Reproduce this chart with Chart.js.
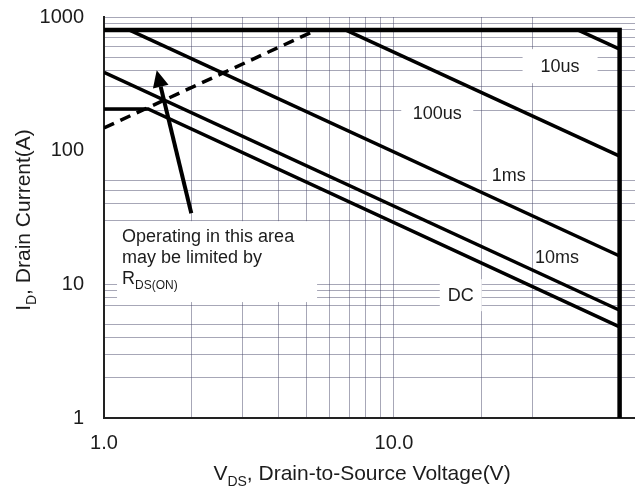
<!DOCTYPE html>
<html>
<head>
<meta charset="utf-8">
<script src="https://cdn.jsdelivr.net/npm/chart.js@4.4.1/dist/chart.umd.min.js"></script>
<style>
  html, body { margin: 0; padding: 0; background: #fff; }
  canvas { display: block; }
</style>
</head>
<body>
<canvas id="soaChart" width="635" height="488"></canvas>
<script>
// Safe operating area (log-log)
const limitVds = [1, 60, 60];
const limitId = [800, 800, 1];

const us10Vds = [43, 60];
const us10Id = [800, 575];

const us100Vds = [6.8, 60];
const us100Id = [800, 91];

const ms1Vds = [1.22, 60];
const ms1Id = [800, 16.3];

const ms10Vds = [1, 60];
const ms10Id = [385, 6.4];

const dcVds = [1, 1.42, 60];
const dcId = [205, 205, 4.8];

// Rds(on) limit (dashed)
const rdsVds = [1, 5.4];
const rdsId = [148, 800];

// arrow from the note up to the Rds(on) region
const arrowVds = [2.0, 1.52];
const arrowId = [34, 400];

// grid lines and tick labels
const xGridValues = [1, 2, 3, 4, 5, 6, 7, 8, 9, 10, 20, 30];
const xLabelValues = [1, 10];
const yGridValues = [1, 2, 3, 4, 5, 7, 8, 9, 10, 30, 40, 50, 60, 200, 300, 400, 500, 600, 700, 800, 900, 1000];
const yLabelValues = [1, 10, 100, 1000];

const FONT = '"Liberation Sans", Arial, sans-serif';
const INK = "#1c1c1c";
const GRID = "rgba(72, 72, 104, 0.48)";

// curve tags, anchored in data space (Vds, Id); w/h = white knock-out box
const curveTags = [
  { text: "10us", vds: 37.4, id: 429, w: 75, h: 34 },
  { text: "100us", vds: 14.1, id: 191, w: 72, h: 32 },
  { text: "1ms", vds: 24.9, id: 65.7, w: 44, h: 26 },
  { text: "10ms", vds: 36.5, id: 16.0, w: 48, h: 26 },
  { text: "DC", vds: 17.0, id: 8.3, w: 42, h: 32 },
];

function pts(xs, ys) {
  return xs.map((x, i) => ({ x: x, y: ys[i] }));
}

function drawRich(ctx, parts, x, y, size, align) {
  const subSize = Math.round(size * 0.66);
  const widths = parts.map(([t, sub]) => {
    ctx.font = `${sub ? subSize : size}px ${FONT}`;
    return ctx.measureText(t).width;
  });
  const total = widths.reduce((a, b) => a + b, 0);
  let cx = align === "center" ? x - total / 2 : x;
  ctx.textAlign = "left";
  ctx.textBaseline = "alphabetic";
  parts.forEach(([t, sub], i) => {
    ctx.font = `${sub ? subSize : size}px ${FONT}`;
    ctx.fillText(t, cx, sub ? y + size * 0.28 : y);
    cx += widths[i];
  });
}

const soaDecor = {
  id: "soaDecor",
  beforeDatasetsDraw(chart) {
    const { ctx, scales } = chart;
    const xs = scales.x, ys = scales.y;
    ctx.save();

    // note box (white, hides the grid behind the text)
    const bx0 = xs.getPixelForValue(1.109), bx1 = xs.getPixelForValue(5.43);
    const by0 = ys.getPixelForValue(29.7), by1 = ys.getPixelForValue(7.37);
    ctx.fillStyle = "#fff";
    ctx.fillRect(bx0, by0, bx1 - bx0, by1 - by0);

    ctx.fillStyle = INK;
    const tx = xs.getPixelForValue(1.154);
    const ty = ys.getPixelForValue(20.7);
    drawRich(ctx, [["Operating in this area", false]], tx, ty, 18, "left");
    drawRich(ctx, [["may be limited by", false]], tx, ty + 21, 18, "left");
    drawRich(ctx, [["R", false], ["DS(ON)", true]], tx, ty + 42, 18, "left");

    // curve tags
    curveTags.forEach((tag) => {
      const px = xs.getPixelForValue(tag.vds);
      const py = ys.getPixelForValue(tag.id);
      ctx.fillStyle = "#fff";
      ctx.fillRect(px - tag.w / 2, py - tag.h / 2, tag.w, tag.h);
      ctx.fillStyle = INK;
      ctx.font = `18px ${FONT}`;
      ctx.textAlign = "center";
      ctx.textBaseline = "middle";
      ctx.fillText(tag.text, px, py + 1);
    });
    ctx.restore();
  },
  afterDatasetsDraw(chart) {
    const { ctx, scales } = chart;
    const x0 = scales.x.getPixelForValue(arrowVds[0]);
    const y0 = scales.y.getPixelForValue(arrowId[0]);
    const x1 = scales.x.getPixelForValue(arrowVds[1]);
    const y1 = scales.y.getPixelForValue(arrowId[1]);
    const ang = Math.atan2(y1 - y0, x1 - x0);
    const headLen = 17, headHalf = 8;
    const bx = x1 - headLen * Math.cos(ang), by = y1 - headLen * Math.sin(ang);

    ctx.save();
    ctx.strokeStyle = "#000";
    ctx.fillStyle = "#000";
    ctx.lineWidth = 4;
    ctx.beginPath();
    ctx.moveTo(x0, y0);
    ctx.lineTo(bx, by);
    ctx.stroke();
    ctx.beginPath();
    ctx.moveTo(x1, y1);
    ctx.lineTo(bx + headHalf * Math.sin(ang), by - headHalf * Math.cos(ang));
    ctx.lineTo(bx - headHalf * Math.sin(ang), by + headHalf * Math.cos(ang));
    ctx.closePath();
    ctx.fill();
    ctx.restore();
  },
  afterDraw(chart) {
    const { ctx, chartArea } = chart;
    ctx.save();
    ctx.fillStyle = INK;
    // x axis title
    drawRich(ctx, [["V", false], ["DS", true], [", Drain-to-Source Voltage(V)", false]],
      362, chartArea.bottom + 62, 21, "center");
    // y axis title
    ctx.translate(30, 220);
    ctx.rotate(-Math.PI / 2);
    drawRich(ctx, [["I", false], ["D", true], [", Drain Current(A)", false]], 0, 0, 21, "center");
    ctx.restore();
  },
};

const solid = (data, width) => ({
  data: data,
  borderColor: "#000",
  borderWidth: width,
  showLine: true,
  pointRadius: 0,
  tension: 0,
  fill: false,
});

const ctx = document.getElementById("soaChart").getContext("2d");

new Chart(ctx, {
  type: "scatter",
  data: {
    datasets: [
      { label: "Limit", ...solid(pts(limitVds, limitId), 4.5) },
      { label: "10us", ...solid(pts(us10Vds, us10Id), 3.5) },
      { label: "100us", ...solid(pts(us100Vds, us100Id), 3.5) },
      { label: "1ms", ...solid(pts(ms1Vds, ms1Id), 3.5) },
      { label: "10ms", ...solid(pts(ms10Vds, ms10Id), 3.5) },
      { label: "DC", ...solid(pts(dcVds, dcId), 3.5) },
      { label: "RDS(ON)", ...solid(pts(rdsVds, rdsId), 3.5), borderDash: [11, 7] },
    ],
  },
  options: {
    responsive: false,
    animation: false,
    devicePixelRatio: 1,
    layout: { padding: { top: 17, right: 0, left: 0, bottom: 0 } },
    plugins: {
      legend: { display: false },
      tooltip: { enabled: false },
    },
    scales: {
      x: {
        type: "logarithmic",
        min: 1,
        max: 67.8,
        afterBuildTicks: (scale) => {
          scale.ticks = xGridValues.map((v) => ({ value: v }));
        },
        afterFit: (scale) => {
          scale.height = 70;
        },
        ticks: {
          autoSkip: false,
          maxRotation: 0,
          padding: 13,
          color: INK,
          font: { family: FONT, size: 20 },
          callback: (v) => (xLabelValues.includes(v) ? v.toFixed(1) : ""),
        },
        grid: { color: GRID, lineWidth: 1, drawTicks: false },
        border: { color: "#222", width: 2 },
      },
      y: {
        type: "logarithmic",
        min: 1,
        max: 1000,
        afterBuildTicks: (scale) => {
          const all = [...new Set([...yGridValues, ...yLabelValues])].sort((a, b) => a - b);
          scale.ticks = all.map((v) => ({ value: v }));
        },
        afterFit: (scale) => {
          scale.width = 104;
          scale.paddingTop = 0;
          scale.paddingBottom = 0;
        },
        ticks: {
          autoSkip: false,
          padding: 20,
          color: INK,
          font: { family: FONT, size: 20 },
          callback: (v) => (yLabelValues.includes(v) ? String(v) : ""),
        },
        grid: {
          color: (c) => (c.tick && yGridValues.includes(c.tick.value) ? GRID : "rgba(0,0,0,0)"),
          lineWidth: 1,
          drawTicks: false,
        },
        border: { color: "#222", width: 2 },
      },
    },
  },
  plugins: [soaDecor],
});
</script>
</body>
</html>
